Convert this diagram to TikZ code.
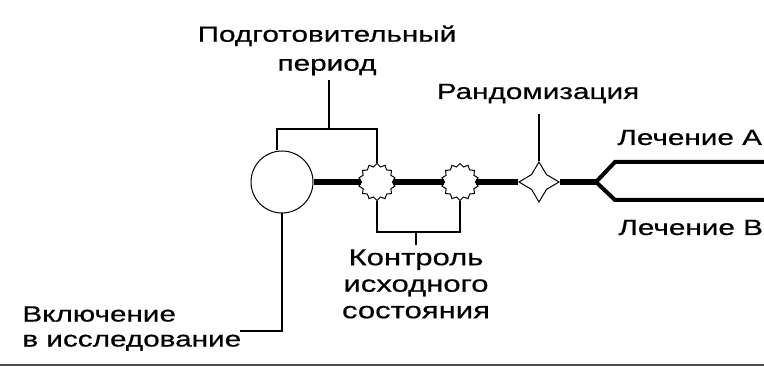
\documentclass[tikz,border=0pt]{standalone}
\usepackage{fontspec}
\setmainfont[FakeStretch=1.35, FakeBold=0.6]{Liberation Sans}
\usetikzlibrary{shapes.geometric}

\tikzset{
	lbl/.style={inner sep=0pt, font=\fontsize{11}{13}\selectfont},
	thinline/.style={line width=0.8pt},
	mainline/.style={line width=2.6pt},
	armline/.style={line width=2pt},
	gear/.style={star, star points=14, star point ratio=1.2, minimum size=18.5pt, inner sep=0pt, draw, line width=0.5pt, fill=white},
	randstar/.style={star, star points=4, star point ratio=1.9, minimum size=20pt, inner sep=0pt, draw, line width=0.5pt, fill=white},
}

\begin{document}
\begin{tikzpicture}[x=0.5pt, y=-0.5pt]
		\useasboundingbox (0,0) rectangle (764,367);

		% stages along the main line
		\node[circle, draw, line width=0.5pt, minimum size=31pt, inner sep=0pt] (incl) at (282,182) {};
		\node[gear] (ctrlA) at (377,182) {};
		\node[gear] (ctrlB) at (460,182) {};
		\node[randstar] (rand) at (539,182) {};
		\coordinate (fork) at (596,182);
		\coordinate (armA) at (615,162);
		\coordinate (endA) at (764,162);
		\coordinate (armB) at (615,200);
		\coordinate (endB) at (764,200);

		\draw[mainline] (incl) -- (ctrlA) -- (ctrlB) -- (rand) -- (fork);
		\draw[armline, line join=miter] (fork) -- (armA) -- (endA);
		\draw[armline, line join=miter] (fork) -- (armB) -- (endB);

		% labels
		\node[lbl, align=center, anchor=north, font=\fontsize{11}{14.5}\selectfont] (preplbl) at (327,25) {Подготовительный\\период};
		\node[lbl, anchor=base] (randlbl) at (538,99) {Рандомизация};
		\node[lbl, anchor=base west] (lblA) at (617,145) {Лечение А};
		\node[lbl, anchor=base west] (lblB) at (618,235) {Лечение В};
		\node[lbl, align=center, anchor=north, font=\fontsize{11.5}{13.25}\selectfont] (ctrllbl) at (416,249) {Контроль\\исходного\\состояния};
		\node[lbl, align=left, anchor=north west, font=\fontsize{11}{12.5}\selectfont] (incllbl) at (22,306) {Включение\\в исследование};

		% brackets and leaders
		\coordinate (prepjoin) at (329,129);
		\coordinate (ctrljoin) at (416,232);
		\coordinate (inclhook) at (240,331);
		\draw[thinline] ([xshift=-2.5pt]incl.north) |- (prepjoin) -| (ctrlA.north);
		\draw[thinline, shorten >=2pt] (prepjoin) -- (prepjoin |- preplbl.south);
		\draw[thinline] (ctrlA.south) |- (ctrljoin) -| (ctrlB.south);
		\draw[thinline, shorten >=2pt] (ctrljoin) -- (ctrljoin |- ctrllbl.north);
		\draw[thinline, shorten >=5pt] (rand.north) -- (rand.north |- randlbl.south);
		\draw[thinline] (incl.south) |- (inclhook);

		\draw[line width=1pt, black!70] (0,365) -- (764,365);
	\end{tikzpicture}
\end{document}
